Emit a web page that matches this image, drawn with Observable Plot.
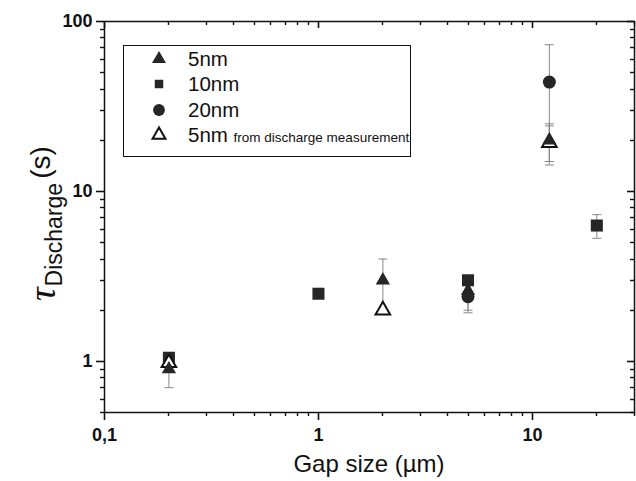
<!DOCTYPE html>
<html><head><meta charset="utf-8">
<script src="https://cdn.jsdelivr.net/npm/d3@7"></script>
<script src="https://cdn.jsdelivr.net/npm/@observablehq/plot@0.6"></script>
<style>
body{margin:0;background:#fff;}
#wrap{position:relative;width:636px;height:481px;font-family:"Liberation Sans",Arial,sans-serif;}
#legend{position:absolute;left:123px;top:45px;width:288px;height:112px;border:1.5px solid #111;box-sizing:border-box;background:#fff;}
.row{position:absolute;left:0;height:24px;}
.row svg{position:absolute;left:23px;top:0;}
.row span{position:absolute;left:64px;white-space:nowrap;font-size:20.5px;color:#111;line-height:24px;}
.row small{font-size:13.5px;}
</style></head><body><div id="wrap"></div>
<script>
// ---- data ----
const seriesNames = ["5nm", "10nm", "20nm", "5nm"];
const seriesNote = ["", "", "", "from discharge measurement"];
// 5 nm (filled triangles)
const tri5X = [0.2, 2, 5, 12];
const tri5Y = [0.9, 3.0, 2.6, 20];
const tri5E = [0.2, 1.0, 0.6, 5];
// 10 nm (filled squares)
const sq10X = [0.2, 1, 5, 20];
const sq10Y = [1.05, 2.5, 3.0, 6.3];
const sq10E = [0, 0, 0, 1.0];
// 20 nm (filled circles)
const ci20X = [5, 12];
const ci20Y = [2.4, 44];
const ci20E = [0.47, 29];
// 5 nm from discharge measurement (open triangles)
const open5X = [0.2, 2, 12];
const open5Y = [0.98, 2.0, 19.3];
const open5E = [0, 0, 5];
// ticks
const xMajor = [0.1, 1, 10];
const xMinor = [0.2,0.3,0.4,0.5,0.6,0.7,0.8,0.9,2,3,4,5,6,7,8,9,20,30];
const yMajor = [1, 10, 100];
const yMinor = [0.5,0.6,0.7,0.8,0.9,2,3,4,5,6,7,8,9,20,30,40,50,60,70,80,90];

const rows = (xs, ys, es) => xs.map((x, i) => ({x, y: ys[i], lo: ys[i] - es[i], hi: ys[i] + es[i], e: es[i]}));
const tri = rows(tri5X, tri5Y, tri5E);
const sq = rows(sq10X, sq10Y, sq10E);
const ci = rows(ci20X, ci20Y, ci20E);
const op = rows(open5X, open5Y, open5E);
const errs = [...tri, ...sq, ...ci, ...op].filter(d => d.e > 0);
const caps = errs.flatMap(d => [{x: d.x, y: d.lo}, {x: d.x, y: d.hi}]);
const capSymbol = {draw(ctx) { ctx.moveTo(-4.5, 0); ctx.lineTo(4.5, 0); }};
const ink = "#262626";

const chart = Plot.plot({
  width: 636, height: 481,
  marginLeft: 104, marginRight: 2, marginTop: 21, marginBottom: 69,
  style: {fontFamily: "'Liberation Sans', Arial, sans-serif", fontSize: "18px", fontWeight: "bold", color: "#111", background: "#fff"},
  x: {type: "log", domain: [0.1, 30]},
  y: {type: "log", domain: [0.5, 100]},
  marks: [
    Plot.axisX(xMajor, {tickSize: 0, tickPadding: 16, tickFormat: d => d === 0.1 ? "0,1" : String(d), label: null}),
    Plot.axisY(yMajor, {tickSize: 0, tickPadding: 12, tickFormat: d => String(d), label: null}),
    Plot.frame({stroke: "#111", strokeWidth: 1.5}),
    Plot.ruleX(errs, {x: "x", y1: "lo", y2: "hi", stroke: "#888", strokeWidth: 1}),
    Plot.dot(caps, {x: "x", y: "y", symbol: capSymbol, stroke: "#888", strokeWidth: 1, r: 4}),
    Plot.dot(sq, {x: "x", y: "y", symbol: "square", fill: ink, r: 6.8}),
    Plot.dot(ci, {x: "x", y: "y", symbol: "circle", fill: ink, r: 6.5}),
    Plot.dot(op, {x: "x", y: "y", symbol: "triangle", fill: "#fff", stroke: "#111", strokeWidth: 2, r: 5.4}),
    Plot.dot(tri, {x: "x", y: "y", symbol: "triangle", fill: ink, r: 5.3})
  ]
});

const svg = d3.select(chart);
// tick marks on all four sides, placed with the chart's own scales
const sx = chart.scale("x"), sy = chart.scale("y");
const [xl, xr] = sx.range, [yb, yt] = sy.range;
const tg = svg.append("g").attr("fill", "none").attr("stroke", "#111");
const seg = (x1, y1, x2, y2, w) => tg.append("line")
  .attr("x1", x1).attr("y1", y1).attr("x2", x2).attr("y2", y2).attr("stroke-width", w);
xMinor.forEach(v => { const p = Math.round(sx.apply(v)) + 0.5; seg(p, yb, p, yb + 4, 1.4); seg(p, yt, p, yt + 4, 1.4); });
xMajor.forEach(v => { const p = Math.round(sx.apply(v)) + 0.5; seg(p, yb, p, yb + 8, 1.6); seg(p, yt, p, yt + 7, 1.6); });
yMinor.forEach(v => { const p = Math.round(sy.apply(v)) + 0.5; seg(xl - 4, p, xl, p, 1.4); seg(xr - 4, p, xr, p, 1.4); });
yMajor.forEach(v => { const p = Math.round(sy.apply(v)) + 0.5; seg(xl - 8, p, xl, p, 1.6); seg(xr - 7, p, xr, p, 1.6); });

svg.append("text")
  .attr("x", 369).attr("y", 472).attr("text-anchor", "middle")
  .attr("font-family", "'Liberation Sans', Arial, sans-serif")
  .attr("font-size", 24).attr("font-weight", "normal").attr("fill", "#111")
  .text("Gap size (µm)");
const yl = svg.append("text")
  .attr("transform", "translate(55,301) rotate(-90)")
  .attr("text-anchor", "start")
  .attr("font-family", "'Liberation Sans', Arial, sans-serif")
  .attr("font-weight", "normal").attr("fill", "#111");
yl.append("tspan").attr("font-family", "'Liberation Serif', serif").attr("font-style", "italic").attr("font-size", 38).text("τ");
yl.append("tspan").attr("font-size", 23).attr("dy", 7).attr("dx", 1).text("Discharge");
yl.append("tspan").attr("font-size", 28).attr("dy", -12).attr("dx", 4).text("(s)");

const wrap = document.getElementById("wrap");
wrap.appendChild(chart);

// legend
const legend = document.createElement("div");
legend.id = "legend";
const legendSymbols = [
  {type: d3.symbolTriangle, size: 85, fill: ink, stroke: "none", sw: 0},
  {type: d3.symbolSquare, size: 72, fill: ink, stroke: "none", sw: 0},
  {type: d3.symbolCircle, size: 110, fill: ink, stroke: "none", sw: 0},
  {type: d3.symbolTriangle, size: 72, fill: "#fff", stroke: "#111", sw: 2}
];
const rowTops = [1, 26, 52, 77];
seriesNames.forEach((name, i) => {
  const r = document.createElement("div");
  r.className = "row";
  r.style.top = rowTops[i] + "px";
  const s = legendSymbols[i];
  const path = d3.symbol(s.type, s.size)();
  r.innerHTML = `<svg width="24" height="24" viewBox="-12 -12 24 24"><path d="${path}" fill="${s.fill}" stroke="${s.stroke}" stroke-width="${s.sw}"/></svg><span>${name}${seriesNote[i] ? " <small>" + seriesNote[i] + "</small>" : ""}</span>`;
  legend.appendChild(r);
});
wrap.appendChild(legend);
</script>
</body></html>
